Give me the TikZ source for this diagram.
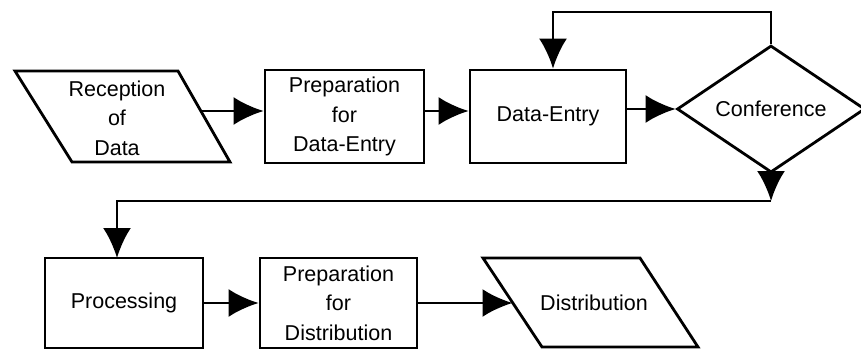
\documentclass[tikz,border=0pt]{standalone}
\usepackage{fontspec}
\setmainfont{Liberation Sans}
\usetikzlibrary{arrows.meta,shapes.geometric}
\begin{document}
\begin{tikzpicture}[x=1pt,y=-1pt,
 line width=2.8pt, line join=miter,
 lbl/.style={font=\fontsize{21.5}{29.5}\selectfont, align=center},
 box/.style={draw, rectangle, line width=2.8pt, inner sep=0pt, lbl},
 txt/.style={inner sep=0pt, lbl},
 decision/.style={draw, diamond, line width=2.8pt, inner sep=0pt, lbl},
 arr/.style={-{Latex[length=30pt,width=28pt]}, line width=2.8pt}]
\useasboundingbox (0,0) rectangle (861,350);

% top row
\node[txt] (rec) at (117,118) {Reception\\of\\Data};
\draw (15,71) -- (178,71) -- (230,162) -- (72,162) -- cycle;
\coordinate (recR) at (201,111);

\node[box, minimum width=159pt, minimum height=93pt] (prepDE) at (344.5,116.5) {Preparation\\for\\Data-Entry};
\node[box, minimum width=156pt, minimum height=93pt] (de) at (548,116.5) {Data-Entry};
\node[decision, minimum width=188pt, minimum height=100pt] (conf) at (771,109) {Conference};

\draw[arr] (recR) -- (recR -| prepDE.west);
\draw[arr] (prepDE.east |- recR) -- (de.west |- recR);
\draw[arr] (de.east |- conf.west) -- (conf.west);

% loop back
\coordinate (loopL) at (553,12);
\draw[arr] (conf.north) |- (loopL) -- (loopL |- de.north);

% exit to second row
\coordinate (c1) at (771,201);
\coordinate (c2) at (117,201);
\draw[arr] (conf.south) -- (c1);
\draw[arr] (c1) -- (c2) -- (c2 |- 0,258);

% bottom row
\node[box, minimum width=158pt, minimum height=90pt] (proc) at (124,303) {Processing};
\node[box, minimum width=157pt, minimum height=90pt] (prepDist) at (338.5,303) {Preparation\\for\\Distribution};
\node[txt] (dist) at (594,303) {Distribution};
\draw (483,258) -- (640,258) -- (698,347) -- (542,347) -- cycle;
\coordinate (distL) at (512.5,303);

\draw[arr] (proc.east) -- (prepDist.west);
\draw[arr] (prepDist.east) -- (distL);
\end{tikzpicture}
\end{document}
